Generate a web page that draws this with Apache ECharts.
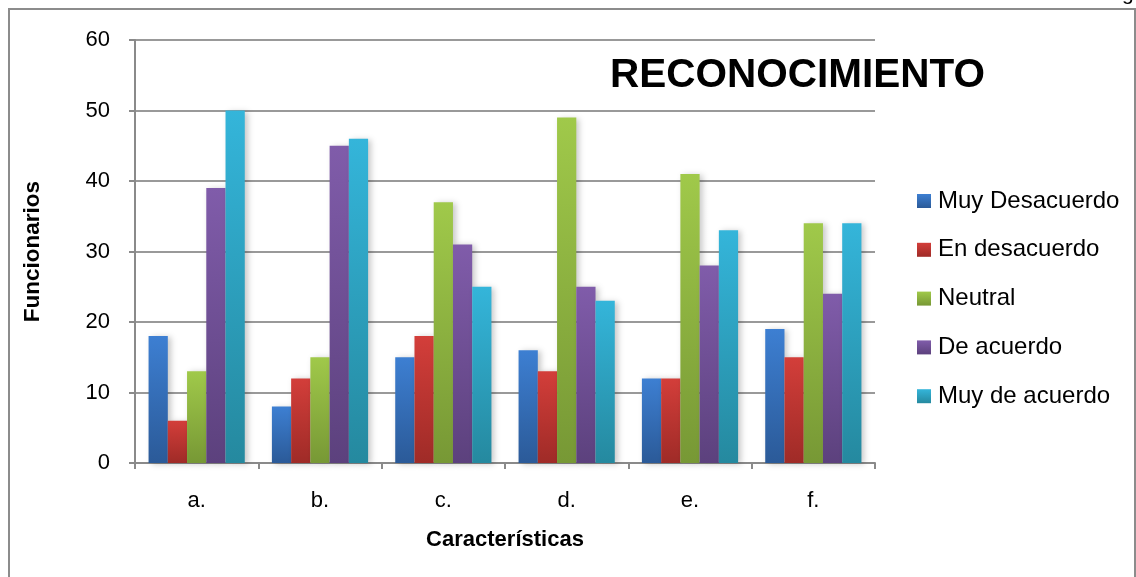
<!DOCTYPE html>
<html>
<head>
<meta charset="utf-8">
<script src="https://cdn.jsdelivr.net/npm/echarts@6/dist/echarts.min.js"></script>
<style>
  html, body { margin: 0; padding: 0; background: #ffffff; }
  #chart { width: 1136px; height: 577px; }
</style>
</head>
<body>
<div id="chart"></div>
<script>
// Survey results: number of staff per answer, for each characteristic
const categories = ['a.', 'b.', 'c.', 'd.', 'e.', 'f.'];
const muyDesacuerdo = [18, 8, 15, 16, 12, 19];
const enDesacuerdo  = [6, 12, 18, 13, 12, 15];
const neutral       = [13, 15, 37, 49, 41, 34];
const deAcuerdo     = [39, 45, 31, 25, 28, 24];
const muyDeAcuerdo  = [50, 46, 25, 23, 33, 34];
const yTicks = [0, 10, 20, 30, 40, 50, 60];

const FONT = '"Liberation Sans", Arial, sans-serif';

// [name, values, top colour, bottom colour]
const seriesDefs = [
  ['Muy Desacuerdo', muyDesacuerdo, '#3d7fd2', '#2b5a98'],
  ['En desacuerdo',  enDesacuerdo,  '#d33e3a', '#9f2b27'],
  ['Neutral',        neutral,       '#a0c94a', '#779835'],
  ['De acuerdo',     deAcuerdo,     '#805caa', '#5c417d'],
  ['Muy de acuerdo', muyDeAcuerdo,  '#34b5da', '#25899f']
];

function grad(top, bottom) {
  return new echarts.graphic.LinearGradient(0, 0, 0, 1, [
    { offset: 0, color: top },
    { offset: 1, color: bottom }
  ]);
}

const chart = echarts.init(document.getElementById('chart'), null, { renderer: 'canvas' });

const option = {
  animation: false,
  backgroundColor: '#ffffff',
  textStyle: { fontFamily: FONT },
  grid: { left: 135, right: 261, top: 40, bottom: 114, containLabel: false },
  title: {
    text: 'RECONOCIMIENTO',
    left: 605,
    top: 50,
    textStyle: { fontFamily: FONT, fontWeight: 'bold', fontSize: 40.5, color: '#000000' }
  },
  legend: {
    orient: 'vertical',
    left: 917,
    top: 189,
    padding: 0,
    itemWidth: 14,
    itemHeight: 14,
    itemGap: 24.8,
    icon: 'rect',
    data: seriesDefs.map(d => ({ name: d[0], itemStyle: { color: grad(d[2], d[3]) } })),
    textStyle: { fontFamily: FONT, fontSize: 24, color: '#000000', padding: [0, 0, 0, 2] }
  },
  xAxis: {
    type: 'category',
    data: categories,
    boundaryGap: true,
    name: 'Características',
    nameLocation: 'middle',
    nameGap: 66,
    nameTextStyle: { fontFamily: FONT, fontWeight: 'bold', fontSize: 22, color: '#000000' },
    axisLine: { show: true, lineStyle: { color: '#8a8a8a', width: 2 } },
    axisTick: { show: true, length: 6, lineStyle: { color: '#8a8a8a', width: 2 } },
    axisLabel: { fontFamily: FONT, fontSize: 22, color: '#000000', margin: 27 },
    splitLine: { show: false }
  },
  yAxis: {
    type: 'value',
    min: yTicks[0],
    max: yTicks[yTicks.length - 1],
    interval: 10,
    name: 'Funcionarios',
    nameLocation: 'middle',
    nameGap: 91,
    nameRotate: 90,
    nameTextStyle: { fontFamily: FONT, fontWeight: 'bold', fontSize: 22.5, color: '#000000' },
    axisLine: { show: true, lineStyle: { color: '#8a8a8a', width: 2 } },
    axisTick: { show: true, length: 6, lineStyle: { color: '#8a8a8a', width: 2 } },
    axisLabel: { fontFamily: FONT, fontSize: 22, color: '#000000', margin: 25 },
    splitLine: { show: true, lineStyle: { color: '#999999', width: 2 } }
  },
  series: seriesDefs.map(d => ({
    name: d[0],
    type: 'bar',
    data: d[1],
    barGap: '0%',
    barCategoryGap: '22%',
    itemStyle: {
      color: grad(d[2], d[3]),
      shadowColor: 'rgba(0,0,0,0.22)',
      shadowBlur: 6,
      shadowOffsetX: 3,
      shadowOffsetY: 1
    }
  })),
  graphic: [
    {
      type: 'rect',
      silent: true,
      shape: { x: 9, y: 9, width: 1126, height: 620 },
      style: { fill: 'none', stroke: '#8c8c8c', lineWidth: 2 },
      z: 0
    },
    {
      type: 'text',
      silent: true,
      left: 1122,
      top: -16,
      style: { text: 'g', fontFamily: FONT, fontSize: 21, fill: '#000000' }
    }
  ]
};

chart.setOption(option);
</script>
</body>
</html>
